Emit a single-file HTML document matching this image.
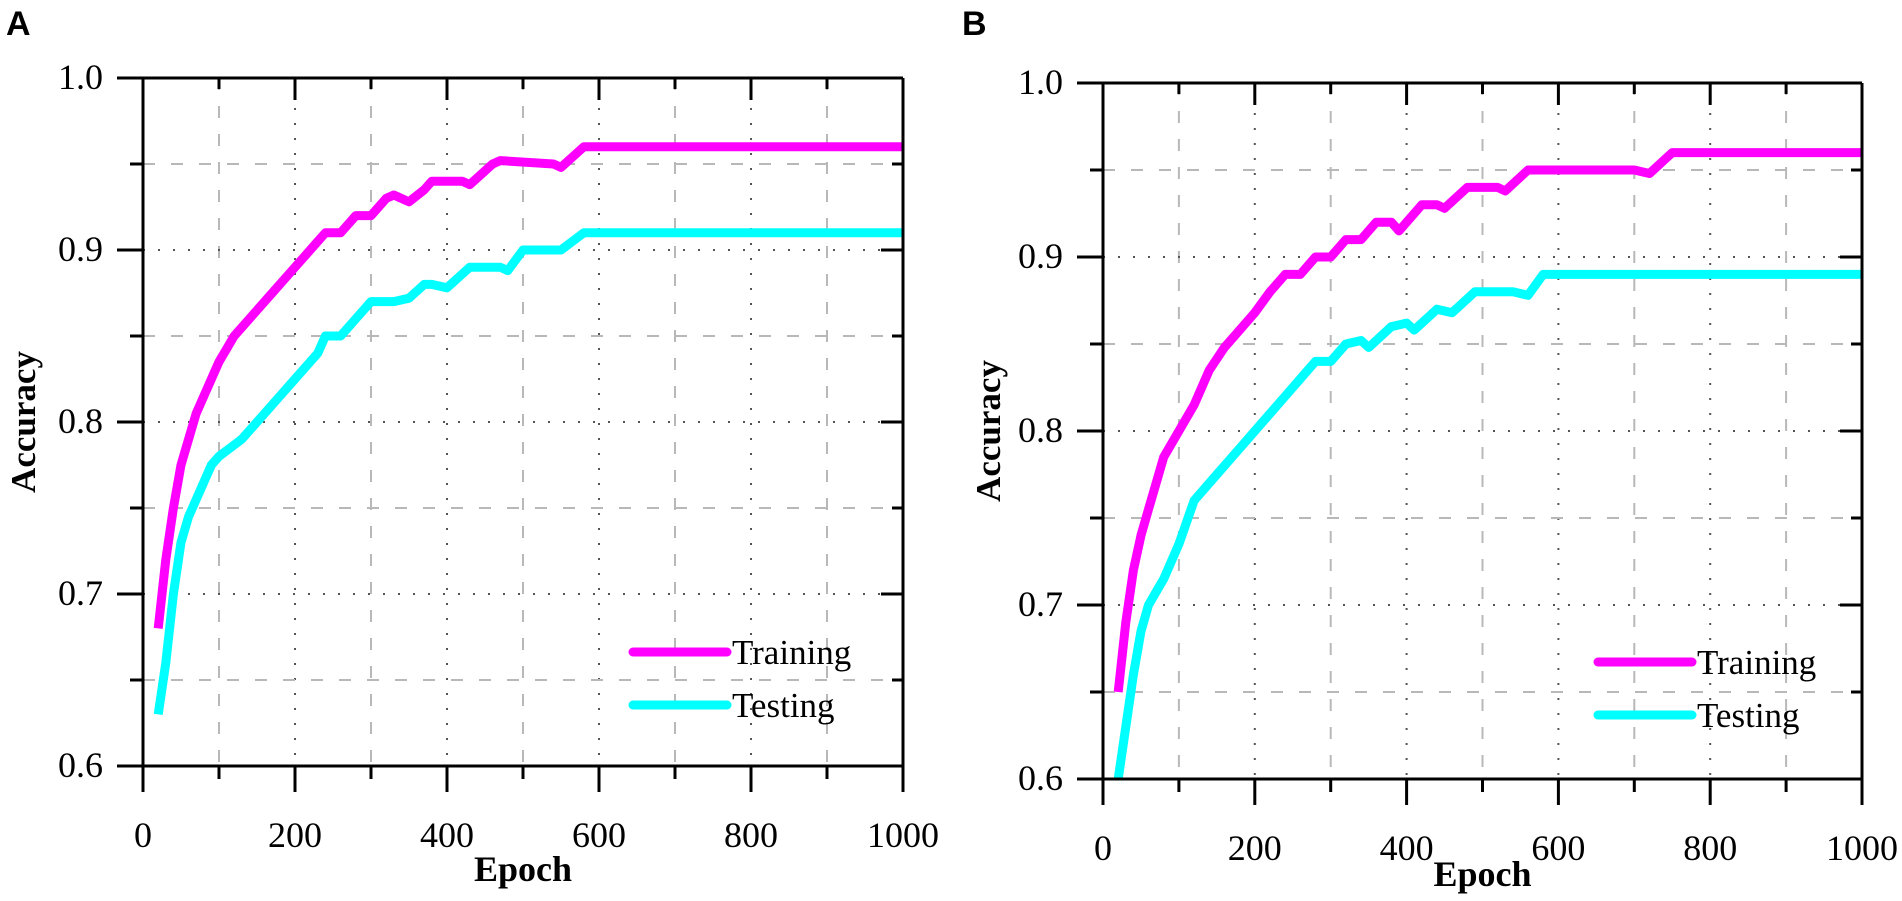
<!DOCTYPE html>
<html><head><meta charset="utf-8"><style>
html,body{margin:0;padding:0;background:#fff;}
svg{display:block;}
text{font-family:"Liberation Serif",serif;}
</style></head><body>
<svg id="fig" width="1902" height="901" xmlns="http://www.w3.org/2000/svg">
<text x="6" y="35" font-weight="bold" font-size="34" style="font-family:'Liberation Sans',sans-serif">A</text>
<text x="962" y="35" font-weight="bold" font-size="34" style="font-family:'Liberation Sans',sans-serif">B</text>
</svg>
<script>
const xTicks=[0,200,400,600,800,1000];
const yTicks=[0.6,0.7,0.8,0.9,1.0];
const aTrainX=[20,30,40,50,60,70,80,90,100,120,150,170,200,230,240,260,280,300,320,330,350,370,380,420,430,460,470,540,550,580,590,1000];
const aTrainY=[0.68,0.72,0.75,0.775,0.79,0.805,0.815,0.825,0.835,0.85,0.865,0.875,0.89,0.905,0.91,0.91,0.92,0.92,0.93,0.932,0.928,0.935,0.94,0.94,0.938,0.95,0.952,0.95,0.948,0.96,0.96,0.96];
const aTestX=[20,30,40,50,60,70,80,90,100,130,150,180,200,230,240,260,280,300,330,350,370,380,400,430,470,480,500,550,580,590,1000];
const aTestY=[0.63,0.66,0.70,0.73,0.745,0.755,0.765,0.775,0.78,0.79,0.80,0.815,0.825,0.84,0.85,0.85,0.86,0.87,0.87,0.872,0.88,0.88,0.878,0.89,0.89,0.888,0.9,0.9,0.91,0.91,0.91];
const bTrainX=[20,30,40,50,60,70,80,100,120,140,160,200,220,240,260,280,300,320,340,360,380,390,420,440,450,480,520,530,560,700,720,750,760,1000];
const bTrainY=[0.65,0.69,0.72,0.74,0.755,0.77,0.785,0.80,0.815,0.835,0.848,0.868,0.88,0.89,0.89,0.90,0.90,0.91,0.91,0.92,0.92,0.915,0.93,0.93,0.928,0.94,0.94,0.938,0.95,0.95,0.948,0.96,0.96,0.96];
const bTestX=[20,30,40,50,60,80,100,120,150,180,200,240,270,280,300,320,340,350,380,400,410,440,460,490,540,560,580,1000];
const bTestY=[0.60,0.63,0.66,0.685,0.70,0.715,0.735,0.76,0.775,0.79,0.80,0.82,0.835,0.84,0.84,0.85,0.852,0.848,0.86,0.862,0.858,0.87,0.868,0.88,0.88,0.878,0.89,0.89];

const NS="http://www.w3.org/2000/svg";
const svg=document.getElementById('fig');
function mk(tag,attrs,parent){const e=document.createElementNS(NS,tag);for(const k in attrs)e.setAttribute(k,attrs[k]);(parent||svg).appendChild(e);return e;}

function panel(id,L,R,T,B,trX,trY,teX,teY,legX,legY,ytitleX,epochY){
  const g=mk('g',{});
  
  
  const sx=v=>L+(R-L)*v/1000;
  const sy=v=>B-(B-T)*(v-0.6)/0.4;
  for(let v=100;v<1000;v+=100){
    const major=v%200===0;
    const l=mk('line',{x1:sx(v),x2:sx(v),y1:T,y2:B,stroke:major?'#555':'#b8b8b8','stroke-width':2,'stroke-dasharray':major?'2 13':'12 16'},g);
    
    
  }
  for(let i=1;i<8;i++){
    const v=0.6+i*0.05;const major=i%2===0;
    const l=mk('line',{x1:L,x2:R,y1:sy(v),y2:sy(v),stroke:major?'#555':'#b8b8b8','stroke-width':2,'stroke-dasharray':major?'2 13':'12 16'},g);
    
    
  }
  function series(xs,ys,color,name){
    let d='';xs.forEach((x,i)=>{d+=(i?'L':'M')+sx(x).toFixed(1)+' '+sy(ys[i]).toFixed(1);});
    const p=mk('path',{d:d,fill:'none',stroke:color,'stroke-width':9,'stroke-linejoin':'round','stroke-linecap':'butt'},g);
    
    
  }
  series(teX,teY,'#00ffff','testing-line');
  series(trX,trY,'#ff00ff','training-line');
  const ax=mk('g',{stroke:'#000','stroke-width':3},g);
  
  
  mk('line',{x1:L-26,x2:R,y1:T,y2:T},ax);
  mk('line',{x1:L-26,x2:R+1,y1:B,y2:B},ax);
  mk('line',{x1:L,x2:L,y1:T,y2:B+26},ax);
  mk('line',{x1:R,x2:R,y1:T,y2:B+26},ax);
  for(let v=100;v<1000;v+=100){
    const major=v%200===0;
    mk('line',{x1:sx(v),x2:sx(v),y1:B,y2:B+(major?26:13)},ax);
    mk('line',{x1:sx(v),x2:sx(v),y1:T,y2:T+(major?22:11)},ax);
  }
  for(let i=1;i<8;i++){
    const v=0.6+i*0.05;const major=i%2===0;
    mk('line',{x1:L-(major?26:13),x2:L,y1:sy(v),y2:sy(v)},ax);
    mk('line',{x1:R-(major?22:11),x2:R,y1:sy(v),y2:sy(v)},ax);
  }
  xTicks.forEach(v=>{const t=mk('text',{x:sx(v),y:B+81,'text-anchor':'middle','font-size':36},g);t.textContent=String(v);
    });
  yTicks.forEach(v=>{const t=mk('text',{x:L-40,y:sy(v)+11,'text-anchor':'end','font-size':36},g);t.textContent=v.toFixed(1);
    });
  const xt=mk('text',{x:(L+R)/2,y:epochY,'text-anchor':'middle','font-size':36,'font-weight':'bold'},g);xt.textContent='Epoch';
  
  const yt=mk('text',{x:0,y:0,'text-anchor':'middle','font-size':35,'font-weight':'bold',transform:`translate(${ytitleX},${(T+B)/2}) rotate(-90)`},g);yt.textContent='Accuracy';
  
  [['Training','#ff00ff',0],['Testing','#00ffff',53]].forEach(([lab,c,dy])=>{
    const lg=mk('g',{},g);
    
    
    mk('line',{x1:legX,x2:legX+94,y1:legY+dy,y2:legY+dy,stroke:c,'stroke-width':9,'stroke-linecap':'round'},lg);
    const t=mk('text',{x:legX+99,y:legY+dy+12,'font-size':35},lg);t.textContent=lab;
  });
}
panel('panel-a',143,903,78,766,aTrainX,aTrainY,aTestX,aTestY,633,652,35,881);
panel('panel-b',1103,1862,83,779,bTrainX,bTrainY,bTestX,bTestY,1598,662,1000,886);
</script>
</body></html>
